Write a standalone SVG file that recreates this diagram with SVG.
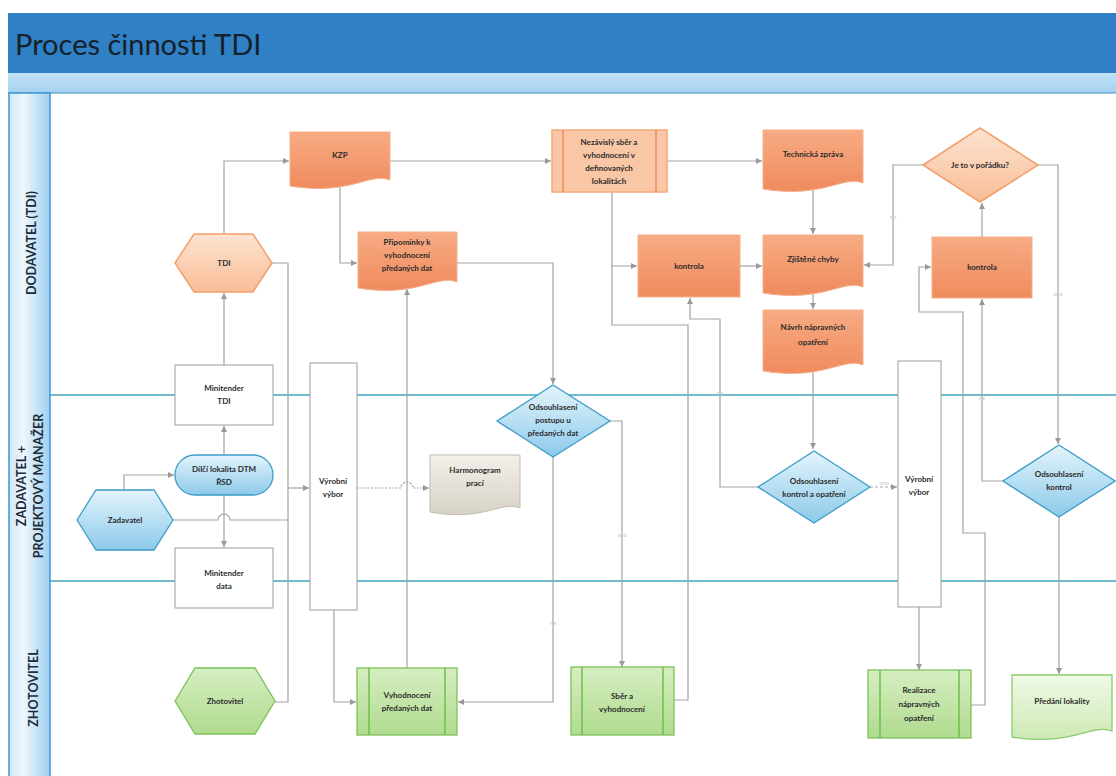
<svg xmlns="http://www.w3.org/2000/svg" width="1116" height="776" viewBox="0 0 1116 776">
<defs>
<linearGradient id="gO" x1="0" y1="0" x2="0" y2="1"><stop offset="0" stop-color="#f7ab84"/><stop offset="1" stop-color="#f08b5d"/></linearGradient>
<linearGradient id="gOL" x1="0" y1="0" x2="0" y2="1"><stop offset="0" stop-color="#fde3d2"/><stop offset="1" stop-color="#f8bd96"/></linearGradient>
<linearGradient id="gB" x1="0" y1="0" x2="0" y2="1"><stop offset="0" stop-color="#e4f4fc"/><stop offset="1" stop-color="#8ccaea"/></linearGradient>
<linearGradient id="gG" x1="0" y1="0" x2="0" y2="1"><stop offset="0" stop-color="#d6eec1"/><stop offset="1" stop-color="#b0db8f"/></linearGradient>
<linearGradient id="gGL" x1="0" y1="0" x2="0" y2="1"><stop offset="0" stop-color="#f0f9e7"/><stop offset="1" stop-color="#cde9b3"/></linearGradient>
<linearGradient id="gH" x1="0" y1="0" x2="0" y2="1"><stop offset="0" stop-color="#f3f0ea"/><stop offset="1" stop-color="#d8d2c6"/></linearGradient>
<linearGradient id="gCol" x1="0" y1="0" x2="1" y2="0"><stop offset="0" stop-color="#cfe7f7"/><stop offset="0.35" stop-color="#eef7fd"/><stop offset="1" stop-color="#9fcff0"/></linearGradient>
<linearGradient id="gBand" x1="0" y1="0" x2="0" y2="1"><stop offset="0" stop-color="#c4e3f6"/><stop offset="1" stop-color="#a2d0ef"/></linearGradient>
<marker id="ar" markerWidth="7" markerHeight="7" refX="6" refY="3.5" orient="auto" markerUnits="userSpaceOnUse"><path d="M0,0.5 L6,3.5 L0,6.5 Z" fill="#9a9a9a"/></marker>
</defs>
<style>
.t{font-family:Lato,"Liberation Sans",sans-serif;font-size:8px;font-weight:bold;fill:#2b2b2b;text-anchor:middle}
.lane{font-family:Lato,"Liberation Sans",sans-serif;font-size:12.5px;font-weight:bold;fill:#1d2b38;text-anchor:middle}
.c{fill:none;stroke:#a3a3a3;stroke-width:1.2}
.ca{fill:none;stroke:#a3a3a3;stroke-width:1.2;marker-end:url(#ar)}
.lbl{font-family:Lato,"Liberation Sans",sans-serif;font-size:6px;fill:#c8c8c8;text-anchor:middle}
.or{fill:url(#gO);stroke:#f3b08a;stroke-width:1}
.ol{fill:url(#gOL);stroke:#f3a06a;stroke-width:1.5}
.bl{fill:url(#gB);stroke:#3d9cc8;stroke-width:1.3}
.gr{fill:url(#gG);stroke:#7dc25a;stroke-width:1.3}
.wb{fill:#ffffff;stroke:#9b9b9b;stroke-width:1}
.ln{stroke:#41a4bf;stroke-width:1.6}
</style>
<rect x="0" y="0" width="1116" height="776" fill="#ffffff"/>
<g id="frame">
<rect x="8" y="13" width="1108" height="60" fill="#2f80c4"/>
<text x="15" y="55" font-family="Lato,'Liberation Sans',sans-serif" font-size="29" fill="#16202b">Proces činnosti TDI</text>
<rect x="8" y="73" width="1108" height="20" fill="url(#gBand)"/>
<line x1="8" y1="93" x2="1116" y2="93" stroke="#3f8fc6" stroke-width="1.2"/>
<rect x="9" y="93" width="41" height="690" fill="url(#gCol)" stroke="#3f96cf" stroke-width="1.5"/>
<line class="ln" x1="50" y1="395" x2="1116" y2="395"/>
<line class="ln" x1="50" y1="581" x2="1116" y2="581"/>
<text class="lane" transform="translate(36,243) rotate(-90)">DODAVATEL (TDI)</text>
<text class="lane" font-size="12" transform="translate(26,486) rotate(-90)">ZADAVATEL +</text>
<text class="lane" font-size="12" transform="translate(43,486) rotate(-90)">PROJEKTOVÝ MANAŽER</text>
<text class="lane" transform="translate(38,688) rotate(-90)">ZHOTOVITEL</text>
</g>
<g id="connectors">
<path class="ca" d="M224,233 V161 H289"/>
<path class="ca" d="M390,161 H551"/>
<path class="ca" d="M667,161 H762"/>
<path class="ca" d="M340,187 V263 H357"/>
<path class="ca" d="M457,263 H553 V384"/>
<path class="ca" d="M224,365 V293"/>
<path class="ca" d="M224,455 V426"/>
<path class="ca" d="M224,495 V547"/>
<path class="ca" d="M124,490 V475 H174"/>
<path class="c" d="M173,520 H218 a6,6 0 0 1 12,0 H288"/>
<path class="c" d="M272,263 H288 V702 H275"/>
<path class="ca" d="M288,488 H309"/>
<path class="ca" d="M357,488 H401 a6,6 0 0 1 12,0 H429" stroke-dasharray="2 1.5"/>
<path class="ca" d="M334,610 V702 H356"/>
<path class="ca" d="M407,668 V289"/>
<path class="ca" d="M553,457 V702 H458"/>
<path class="ca" d="M610,421 H622 V667"/>
<path class="ca" d="M674,700 H688 V325 H612 V266 H637"/>
<path class="c" d="M612,192 V266"/>
<path class="ca" d="M758,487 H720 V319 H690 V298"/>
<path class="ca" d="M740,266 H762"/>
<path class="ca" d="M813,190 V234"/>
<path class="ca" d="M813,292 V309"/>
<path class="ca" d="M813,370 V449"/>
<path class="ca" d="M870,487 H897" stroke-dasharray="3 2"/>
<path class="ca" d="M923,165 H893 V265 H864"/>
<path class="ca" d="M1038,165 H1058 V444"/>
<path class="ca" d="M982,237 V203"/>
<path class="ca" d="M1003,481 H982 V299"/>
<path class="ca" d="M919,607 V670"/>
<path class="ca" d="M971,705 H985 V533 H963 V312 H919 V267 H931"/>
<path class="ca" d="M1059,517 V674"/>
<text class="lbl" x="622" y="537">ano</text>
<text class="lbl" x="553" y="625">ne</text>
<text class="lbl" x="893" y="219">ne</text>
<text class="lbl" x="1058" y="296">ano</text>
<text class="lbl" x="982" y="400">ne</text>
<text class="lbl" x="884" y="485">ano</text>
<text class="lbl" x="720" y="395">ne</text>
</g>
<g id="n-tdi">
<polygon class="ol" points="175,263 194,234 253,234 272,263 253,292 194,292"/>
<text class="t" x="224" y="266" font-weight="normal" fill="#555">TDI</text>
</g>
<g id="n-kzp">
<path class="or" d="M290,132 H390 V180 C370,172 350,196 290,186 Z"/>
<text class="t" x="340" y="158">KZP</text>
</g>
<g id="n-pripominky">
<path class="or" d="M358,232 H457 V282 C437,274 417,298 358,288 Z"/>
<text class="t" x="407" y="245">Připomínky k</text>
<text class="t" x="407" y="258">vyhodnocení</text>
<text class="t" x="407" y="271">předaných dat</text>
</g>
<g id="n-nezavisly">
<rect x="552" y="130" width="115" height="62" fill="#f9c6a6" stroke="#f3a87a" stroke-width="1.5"/>
<line x1="563" y1="130" x2="563" y2="192" stroke="#ef8a5c" stroke-width="1.5"/>
<line x1="656" y1="130" x2="656" y2="192" stroke="#ef8a5c" stroke-width="1.5"/>
<text class="t" x="609" y="145">Nezávislý sběr a</text>
<text class="t" x="609" y="158">vyhodnocení v</text>
<text class="t" x="609" y="171">definovaných</text>
<text class="t" x="609" y="184">lokalitách</text>
</g>
<g id="n-technicka">
<path class="or" d="M763,130 H863 V183 C843,175 823,199 763,189 Z"/>
<text class="t" x="813" y="157">Technická zpráva</text>
</g>
<g id="n-kontrola1">
<rect class="or" x="638" y="235" width="102" height="62"/>
<text class="t" x="689" y="269">kontrola</text>
</g>
<g id="n-zjistene">
<path class="or" d="M763,235 H863 V287 C843,279 823,303 763,293 Z"/>
<text class="t" x="813" y="262">Zjištěné chyby</text>
</g>
<g id="n-navrh">
<path class="or" d="M763,310 H863 V365 C843,357 823,381 763,371 Z"/>
<text class="t" x="813" y="330">Návrh nápravných</text>
<text class="t" x="813" y="345">opatření</text>
</g>
<g id="n-poradku">
<polygon class="ol" points="923,165 980,128 1038,165 980,202"/>
<text class="t" x="980" y="168">Je to v pořádku?</text>
</g>
<g id="n-kontrola2">
<rect class="or" x="932" y="237" width="100" height="61"/>
<text class="t" x="982" y="270">kontrola</text>
</g>
<g id="n-minitender-tdi">
<rect class="wb" x="175" y="365" width="98" height="60"/>
<text class="t" x="224" y="391">Minitender</text>
<text class="t" x="224" y="404">TDI</text>
</g>
<g id="n-vybor1">
<rect class="wb" x="310" y="363" width="47" height="247"/>
<text class="t" x="333" y="484">Výrobní</text>
<text class="t" x="333" y="497">výbor</text>
</g>
<g id="n-dilci">
<rect class="bl" x="175" y="455" width="98" height="40" rx="20" ry="20"/>
<text class="t" x="224" y="472">Dílčí lokalita DTM</text>
<text class="t" x="224" y="485">ŘSD</text>
</g>
<g id="n-zadavatel">
<polygon class="bl" points="77,520 96,490 154,490 173,520 154,550 96,550"/>
<text class="t" x="125" y="523" fill="#4a6c86">Zadavatel</text>
</g>
<g id="n-minitender-data">
<rect class="wb" x="175" y="548" width="98" height="60"/>
<text class="t" x="224" y="576">Minitender</text>
<text class="t" x="224" y="589">data</text>
</g>
<g id="n-harmonogram">
<path d="M430,455 H520 V508 C502,500 484,522 430,512 Z" fill="url(#gH)" stroke="#c2bcb1" stroke-width="1"/>
<text class="t" x="475" y="473">Harmonogram</text>
<text class="t" x="475" y="486">prací</text>
</g>
<g id="n-odsouhlaseni-postupu">
<polygon class="bl" points="497,421 553,385 610,421 553,457"/>
<text class="t" x="553" y="410">Odsouhlasení</text>
<text class="t" x="553" y="423">postupu u</text>
<text class="t" x="553" y="436">předaných dat</text>
</g>
<g id="n-odsouhlaseni-opatreni">
<polygon class="bl" points="758,487 814,451 870,487 814,523"/>
<text class="t" x="814" y="484">Odsouhlasení</text>
<text class="t" x="814" y="497">kontrol a opatření</text>
</g>
<g id="n-vybor2">
<rect class="wb" x="898" y="361" width="43" height="246"/>
<text class="t" x="919" y="482">Výrobní</text>
<text class="t" x="919" y="495">výbor</text>
</g>
<g id="n-odsouhlaseni-kontrol">
<polygon class="bl" points="1003,481 1059,445 1115,481 1059,517"/>
<text class="t" x="1059" y="477">Odsouhlasení</text>
<text class="t" x="1059" y="490">kontrol</text>
</g>
<g id="n-zhotovitel">
<polygon class="gr" points="175,701 195,668 255,668 275,701 255,734 195,734"/>
<text class="t" x="225" y="704">Zhotovitel</text>
</g>
<g id="n-vyhodnoceni">
<rect class="gr" x="357" y="668" width="100" height="67"/>
<line x1="369" y1="668" x2="369" y2="735" stroke="#6bbf4a" stroke-width="1.5"/>
<line x1="445" y1="668" x2="445" y2="735" stroke="#6bbf4a" stroke-width="1.5"/>
<text class="t" x="407" y="698">Vyhodnocení</text>
<text class="t" x="407" y="711">předaných dat</text>
</g>
<g id="n-sber">
<rect class="gr" x="571" y="667" width="103" height="68"/>
<line x1="582" y1="667" x2="582" y2="735" stroke="#6bbf4a" stroke-width="1.5"/>
<line x1="663" y1="667" x2="663" y2="735" stroke="#6bbf4a" stroke-width="1.5"/>
<text class="t" x="622" y="699">Sběr a</text>
<text class="t" x="622" y="712">vyhodnocení</text>
</g>
<g id="n-realizace">
<rect class="gr" x="868" y="670" width="103" height="68"/>
<line x1="880" y1="670" x2="880" y2="738" stroke="#6bbf4a" stroke-width="1.5"/>
<line x1="959" y1="670" x2="959" y2="738" stroke="#6bbf4a" stroke-width="1.5"/>
<text class="t" x="919" y="693">Realizace</text>
<text class="t" x="919" y="707">nápravných</text>
<text class="t" x="919" y="721">opatření</text>
</g>
<g id="n-predani">
<path d="M1012,675 H1112 V731 C1092,723 1072,747 1012,737 Z" fill="url(#gGL)" stroke="#8ccb6a" stroke-width="1.3"/>
<text class="t" x="1062" y="704">Předání lokality</text>
</g>
</svg>
